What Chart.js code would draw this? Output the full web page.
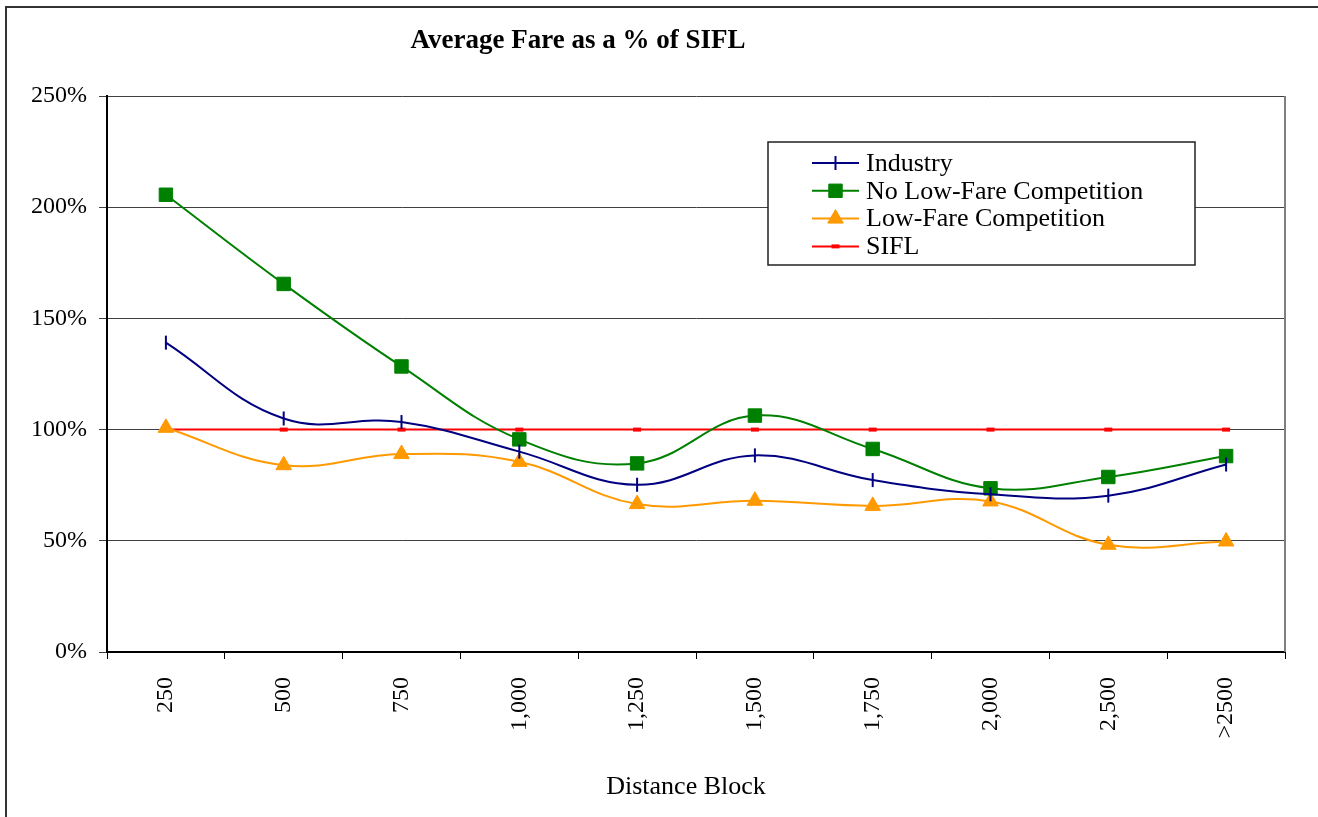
<!DOCTYPE html>
<html>
<head>
<meta charset="utf-8">
<script src="https://cdn.jsdelivr.net/npm/chart.js@4.4.1/dist/chart.umd.min.js"></script>
<style>
html,body{margin:0;padding:0;background:#fff;}
#wrap{position:relative;width:1318px;height:817px;}
</style>
</head>
<body>
<div id="wrap"><canvas id="c" width="1318" height="817"></canvas></div>
<script>
const categories = ["250","500","750","1,000","1,250","1,500","1,750","2,000","2,500",">2500"];
const industry = [139.1,105.0,103.4,90.1,75.2,88.4,77.3,70.9,70.3,84.3];
const noLowFare = [205.6,165.5,128.4,95.6,84.8,106.3,91.3,73.6,78.7,88.1];
const lowFare = [100.8,84.0,89.0,85.5,66.5,68.0,65.7,67.7,48.2,49.7];
const sifl = [100,100,100,100,100,100,100,100,100,100];
const yTicks = [0,50,100,150,200,250];
const chartTitle = "Average Fare as a % of SIFL";
const xTitle = "Distance Block";

const SERIF = "'Liberation Serif','Times New Roman',serif";

function drawShape(ctx, ds, x, y) {
  ctx.save();
  ctx.fillStyle = ds.pointBackgroundColor;
  ctx.strokeStyle = ds.pointBorderColor;
  ctx.lineWidth = ds.pointBorderWidth;
  Chart.helpers.drawPoint(ctx, {
    pointStyle: ds.pointStyle,
    rotation: ds.pointRotation || 0,
    radius: ds.pointRadius,
    borderWidth: ds.pointBorderWidth
  }, x, y);
  ctx.restore();
}

const frame = {
  id: 'frame',
  beforeDraw(chart) {
    const ctx = chart.ctx;
    ctx.save();
    ctx.fillStyle = '#fff';
    ctx.fillRect(0,0,chart.width,chart.height);
    ctx.strokeStyle = '#333';
    ctx.lineWidth = 2;
    ctx.strokeRect(6,7,chart.width+20,chart.height+20);
    ctx.restore();
  },
  afterDraw(chart) {
    const ctx = chart.ctx;
    const a = chart.chartArea;
    ctx.save();
    ctx.fillStyle = '#000';
    ctx.font = "bold 27px " + SERIF;
    ctx.textAlign = 'center';
    ctx.textBaseline = 'alphabetic';
    ctx.fillText(chartTitle, 578, 48);
    ctx.font = "26px " + SERIF;
    ctx.fillText(xTitle, 686, 794);
    ctx.strokeStyle = '#808080';
    ctx.lineWidth = 2;
    ctx.beginPath();
    ctx.moveTo(a.right, a.top);
    ctx.lineTo(a.right, a.bottom);
    ctx.stroke();
    // legend
    const lx = 768, ly = 142, lw = 427, lh = 123;
    ctx.fillStyle = '#fff';
    ctx.fillRect(lx, ly, lw, lh);
    ctx.strokeStyle = '#222';
    ctx.lineWidth = 1.5;
    ctx.strokeRect(lx, ly, lw, lh);
    ctx.font = "26px " + SERIF;
    ctx.textAlign = 'left';
    ctx.textBaseline = 'middle';
    chart.data.datasets.forEach((ds, i) => {
      const y = 163 + i * 27.8;
      ctx.strokeStyle = ds.borderColor;
      ctx.lineWidth = ds.borderWidth;
      ctx.beginPath();
      ctx.moveTo(812, y);
      ctx.lineTo(859, y);
      ctx.stroke();
      drawShape(ctx, ds, 835.5, y);
      ctx.fillStyle = '#000';
      ctx.fillText(ds.label, 866, y + 1);
    });
    ctx.restore();
  }
};

new Chart(document.getElementById('c'), {
  type: 'line',
  data: {
    labels: categories,
    datasets: [
      { label: 'Industry', data: industry, borderColor: '#000080', backgroundColor: '#000080',
        pointBackgroundColor: '#000080', pointBorderColor: '#000080',
        borderWidth: 2, tension: 0.4, pointStyle: 'line', pointRotation: 90, pointRadius: 7, pointBorderWidth: 2 },
      { label: 'No Low-Fare Competition', data: noLowFare, borderColor: '#008000', backgroundColor: '#008000',
        pointBackgroundColor: '#008000', pointBorderColor: '#008000',
        borderWidth: 2, tension: 0.4, pointStyle: 'rect', pointRadius: 9.5, pointBorderWidth: 1 },
      { label: 'Low-Fare Competition', data: lowFare, borderColor: '#FF9900', backgroundColor: '#FF9900',
        pointBackgroundColor: '#FF9900', pointBorderColor: '#FF9900',
        borderWidth: 2, tension: 0.4, pointStyle: 'triangle', pointRadius: 9, pointBorderWidth: 1 },
      { label: 'SIFL', data: sifl, borderColor: '#FF0000', backgroundColor: '#FF0000',
        pointBackgroundColor: '#FF0000', pointBorderColor: '#FF0000',
        borderWidth: 2, tension: 0.4, pointStyle: 'line', pointRotation: 0, pointRadius: 4, pointBorderWidth: 4 }
    ]
  },
  options: {
    responsive: false,
    animation: false,
    devicePixelRatio: 1,
    layout: { padding: { left: 9, right: 33, top: 96, bottom: 0 } },
    plugins: { legend: { display: false }, title: { display: false }, tooltip: { enabled: false } },
    scales: {
      x: {
        offset: true,
        grid: { offset: true, drawOnChartArea: false, drawTicks: true, tickLength: 7, color: '#000', lineWidth: 1 },
        border: { color: '#000', width: 2 },
        ticks: { color: '#000', font: { family: SERIF, size: 24 }, minRotation: 90, maxRotation: 90, padding: 18, autoSkip: false },
        afterFit(s) { s.height = 165; }
      },
      y: {
        min: 0, max: 250,
        afterBuildTicks(s) { s.ticks = yTicks.map(v => ({ value: v })); },
        grid: { color: '#404040', lineWidth: 1, tickLength: 8 },
        border: { color: '#000', width: 2 },
        ticks: { color: '#000', font: { family: SERIF, size: 24 }, padding: 12, callback: v => v + '%' },
        afterFit(s) { s.width = 98; }
      }
    }
  },
  plugins: [frame]
});
</script>
</body>
</html>
